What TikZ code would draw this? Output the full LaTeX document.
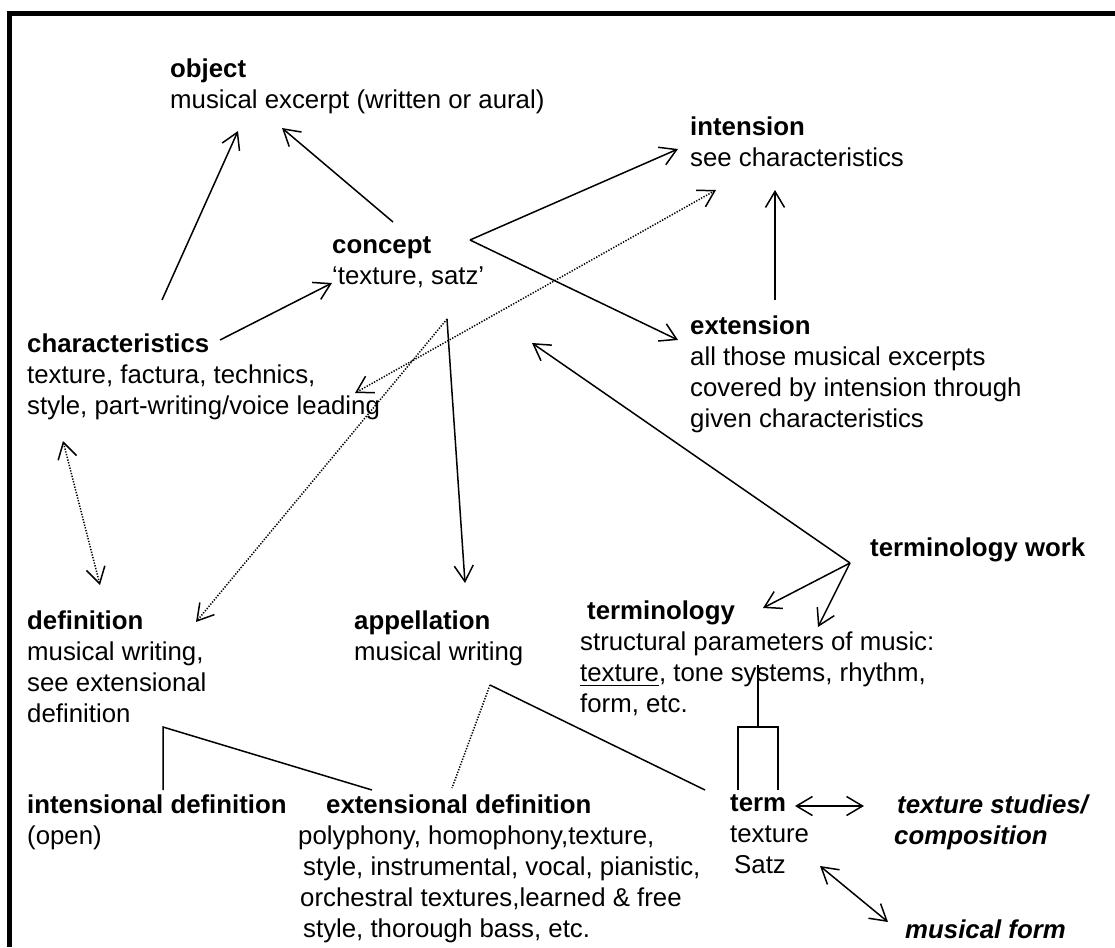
\documentclass[tikz,border=0pt]{standalone}
\usepackage{fontspec}
\setmainfont{Liberation Sans}
\usetikzlibrary{arrows.meta}
% underline drawn as a rule a little below the baseline
\newcommand{\ulword}[1]{\setbox0\hbox{#1}\rlap{\rule[-5pt]{\wd0}{1.3pt}}#1}
\begin{document}
\begin{tikzpicture}[x=1pt,y=-1pt,
  txt/.style={anchor=north west, inner sep=0pt, align=left, yshift=21.7pt,
    font=\fontsize{25.8}{31}\selectfont, execute at begin node=\strut},
  link/.style={line width=1.5pt},
  dots/.style={line width=1.5pt, dash pattern=on 1.3pt off 1.5pt},
  >={Straight Barb[length=16pt,width=19pt]},
  line join=miter
]
\useasboundingbox (0,0) rectangle (1115,947);
% frame
\draw[line width=4.5pt] (9.5,947) -- (9.5,13.5) -- (1115,13.5);

% text blocks (position = left end of first baseline)
\node[txt] (obj) at (170,80) {\textbf{object}\\musical excerpt (written or aural)};
\node[txt] (int) at (690,138) {\textbf{intension}\\see characteristics};
\node[txt] (con) at (332,258) {\textbf{concept}\\‘texture, satz’};
\node[txt] (cha) at (27,355) {\textbf{characteristics}\\texture, factura, technics,\\style, part-writing/voice leading};
\node[txt] (ext) at (690,337) {\textbf{extension}\\all those musical excerpts\\covered by intension through\\given characteristics};
\node[txt] (tw) at (870,556) {\textbf{terminology work}};
\node[txt] (trm) at (580,622) {\hspace*{7pt}\textbf{terminology}\\structural parameters of music:\\\ulword{texture}, tone systems, rhythm,\\form, etc.};
\node[txt] (def) at (27,632) {\textbf{definition}\\musical writing,\\see extensional\\definition};
\node[txt] (app) at (354,632) {\textbf{appellation}\\musical writing};
\node[txt] (idf) at (27,816) {\textbf{intensional definition}\\(open)};
\node[txt] (edf) at (298,816) {\hspace*{28pt}\textbf{extensional definition}\\polyphony, homophony,texture,\\\hspace*{5pt}style, instrumental, vocal, pianistic,\\\hspace*{2pt}orchestral textures,learned \& free\\\hspace*{5pt}style, thorough bass, etc.};
\node[txt] (term) at (730,816) {\textbf{term}\\texture\\\hspace*{4pt}Satz};
\node[txt] (tst) at (894,816) {\hspace*{3pt}\textbf{\textit{texture studies/}}\\\textbf{\textit{composition}}};
\node[txt] (mf) at (905,938) {\textbf{\textit{musical form}}};

% connector end points
\coordinate (chaTop) at (162,300);
\coordinate (objL) at (238,131);
\coordinate (conTop) at (393,222);
\coordinate (objR) at (282,128);
\coordinate (conV) at (470,240);
\coordinate (intIn) at (678,149);
\coordinate (extIn) at (678,340);
\coordinate (chaR) at (220,340);
\coordinate (conIn) at (332,283);
\coordinate (extTop) at (775,300);
\coordinate (intBot) at (775,190);
\coordinate (chaEnd) at (355,393);
\coordinate (intDot) at (716,190);
\coordinate (conBot) at (447,319);
\coordinate (defIn) at (196,622);
\coordinate (appIn) at (465,583);
\coordinate (chaBot) at (63,441);
\coordinate (defTop) at (100,585);
\coordinate (twV) at (850,563);
\coordinate (conRight) at (532,343);
\coordinate (trmIn) at (763,608);
\coordinate (trmIn2) at (818,627);
\coordinate (trmBot) at (758,665);
\coordinate (brk) at (758,727);
\coordinate (brkL) at (738,727);
\coordinate (brkR) at (778,727);
\coordinate (legL) at (738,790);
\coordinate (legR) at (778,790);
\coordinate (defV) at (163,727);
\coordinate (idfTop) at (163,790);
\coordinate (edfTop) at (372,790);
\coordinate (appV) at (490,685);
\coordinate (edfTop2) at (452,788);
\coordinate (termTop) at (705,790);
\coordinate (termR) at (795,806);
\coordinate (tstL) at (864,806);
\coordinate (termBR) at (820,866);
\coordinate (mfTop) at (888,922);

% solid arrows
\draw[link,->] (chaTop) -- (objL);
\draw[link,->] (conTop) -- (objR);
\draw[link,->] (conV) -- (intIn);
\draw[link,->] (conV) -- (extIn);
\draw[link,->] (chaR) -- (conIn);
\draw[link,->] (extTop) -- (intBot);
\draw[link,->] (conBot) -- (appIn);
\draw[link,->] (twV) -- (conRight);
\draw[link,->] (twV) -- (trmIn);
\draw[link,->] (twV) -- (trmIn2);
\draw[link,<->] (termR) -- (tstL);
\draw[link,<->] (termBR) -- (mfTop);

% dotted arrows
\draw[dots,<->] (chaEnd) -- (intDot);
\draw[dots,->] (conBot) -- (defIn);
\draw[dots,<->] (chaBot) -- (defTop);

% plain lines
\draw[link] (trmBot) -- (brk);
\draw[link] (legL) -- (brkL) -- (brkR) -- (legR);
\draw[link] (idfTop) -- (defV) -- (edfTop);
\draw[link] (appV) -- (termTop);
\draw[dots] (appV) -- (edfTop2);
\end{tikzpicture}
\end{document}
